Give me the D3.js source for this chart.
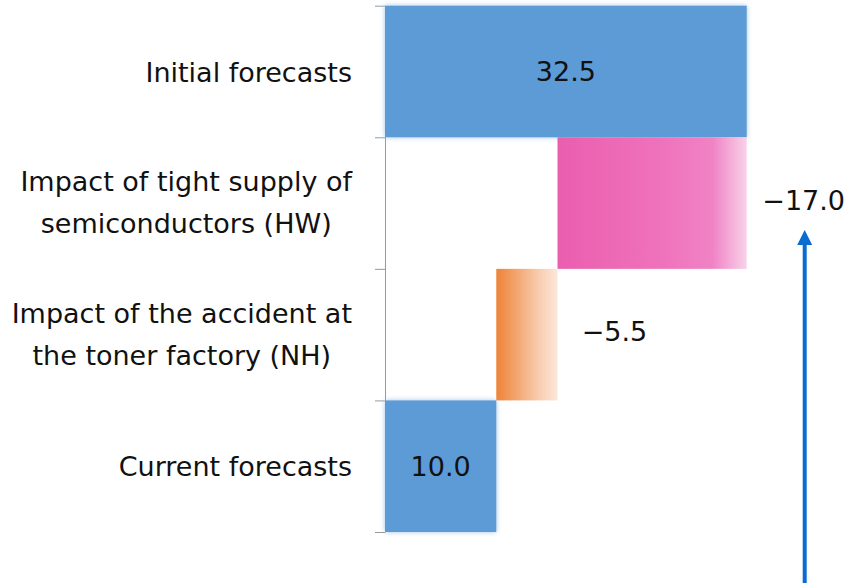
<!DOCTYPE html>
<html>
<head>
<meta charset="utf-8">
<script src="https://cdn.jsdelivr.net/npm/d3@7/dist/d3.min.js"></script>
<style>
  html, body { margin: 0; padding: 0; background: #fff; overflow: hidden; }
  svg { display: block; }
  .cat-label, .val-label { font-family: "DejaVu Sans", sans-serif; font-size: 27px; fill: #111; }
  .axis path, .axis line { stroke: #999; stroke-width: 1; }
</style>
</head>
<body>
<div id="chart"></div>
<script>
// waterfall data
const categories = [
  ["Initial forecasts"],
  ["Impact of tight supply of", "semiconductors (HW)"],
  ["Impact of the accident at", "the toner factory (NH)"],
  ["Current forecasts"]
];
const values = [32.5, -17.0, -5.5, 10.0];
const kinds = ["total", "delta", "delta", "total"];
const valueLabels = ["32.5", "\u221217.0", "\u22125.5", "10.0"];

(function () {
  const width = 844;
  const height = 583;
  const margin = { top: 5.7, right: 98, bottom: 51, left: 385 };
  const innerHeight = height - margin.top - margin.bottom;
  const labelRight = -33;

  // running totals for each bar
  let running = 0;
  const bars = values.map((v, i) => {
    let x0, x1;
    if (kinds[i] === "total") {
      x0 = 0; x1 = v; running = v;
    } else {
      x0 = running + v; x1 = running; running = running + v;
    }
    return { i, value: v, kind: kinds[i], x0, x1, lines: categories[i], label: valueLabels[i] };
  });

  const svg = d3.select("#chart")
    .append("svg")
    .attr("width", width)
    .attr("height", height);

  const defs = svg.append("defs");

  const glow = defs.append("filter")
    .attr("id", "glow")
    .attr("x", "-20%").attr("y", "-20%")
    .attr("width", "140%").attr("height", "140%");
  glow.append("feGaussianBlur").attr("in", "SourceAlpha").attr("stdDeviation", 2.6).attr("result", "blur");
  glow.append("feFlood").attr("flood-color", "#9fc3ea").attr("result", "col");
  glow.append("feComposite").attr("in", "col").attr("in2", "blur").attr("operator", "in").attr("result", "shadow");
  const merge = glow.append("feMerge");
  merge.append("feMergeNode").attr("in", "shadow");
  merge.append("feMergeNode").attr("in", "SourceGraphic");

  function gradient(id, stops) {
    const gr = defs.append("linearGradient")
      .attr("id", id)
      .attr("x1", "0%").attr("x2", "100%")
      .attr("y1", "0%").attr("y2", "0%");
    stops.forEach(([o, c]) => gr.append("stop").attr("offset", o).attr("stop-color", c));
  }
  gradient("pinkGrad", [["0%", "#ea5eae"], ["55%", "#ef72bc"], ["82%", "#f083c4"], ["100%", "#f9d2e9"]]);
  gradient("orangeGrad", [["0%", "#ee8337"], ["35%", "#f3a773"], ["70%", "#f8cdb0"], ["100%", "#fce7da"]]);
  const fills = ["#5b9bd5", "url(#pinkGrad)", "url(#orangeGrad)", "#5b9bd5"];

  const g = svg.append("g").attr("transform", `translate(${margin.left},${margin.top})`);

  const x = d3.scaleLinear().domain([0, 32.5]).range([0, 361.7]);

  const y = d3.scaleBand()
    .domain(bars.map((d) => d.i))
    .range([0, innerHeight])
    .padding(0);

  // axis with ticks at band edges
  const yEdges = d3.scaleLinear().domain([0, bars.length]).range([0, innerHeight]);
  g.append("g")
    .attr("class", "axis")
    .call(d3.axisLeft(yEdges).tickValues(d3.range(bars.length + 1)).tickSize(10).tickSizeOuter(0).tickFormat(""));

  g.selectAll("rect.bar")
    .data(bars)
    .join("rect")
    .attr("class", "bar")
    .attr("x", (d) => x(d.x0))
    .attr("y", (d) => y(d.i))
    .attr("width", (d) => x(d.x1) - x(d.x0))
    .attr("height", y.bandwidth())
    .attr("fill", (d) => fills[d.i])
    .attr("filter", (d) => (d.kind === "total" ? "url(#glow)" : null));

  // value labels
  g.selectAll("text.val-label")
    .data(bars)
    .join("text")
    .attr("class", "val-label")
    .attr("text-anchor", "middle")
    .attr("x", (d) => (d.kind === "total" ? (x(d.x0) + x(d.x1)) / 2 : x(d.x1) + 57))
    .attr("y", (d) => y(d.i) + y.bandwidth() / 2 + (d.kind === "total" ? 0 : -3))
    .attr("dy", "0.36em")
    .text((d) => d.label);

  // category labels: block right-aligned, lines centred within block
  const cat = g.selectAll("text.cat-label")
    .data(bars)
    .join("text")
    .attr("class", "cat-label")
    .attr("text-anchor", "middle")
    .attr("y", (d) => y(d.i) + y.bandwidth() / 2);
  cat.selectAll("tspan")
    .data((d) => d.lines.map((t, k) => ({ t, k, n: d.lines.length })))
    .join("tspan")
    .attr("dy", (l) => (l.k === 0 ? (l.n > 1 ? "-0.43em" : "0.38em") : "1.55em"))
    .text((l) => l.t);
  cat.each(function () {
    const spans = d3.select(this).selectAll("tspan");
    let maxW = 0;
    spans.each(function () { maxW = Math.max(maxW, this.getComputedTextLength()); });
    spans.attr("x", labelRight - maxW / 2);
  });

  // arrow under the largest impact label
  const hw = bars[1];
  const ax = x(hw.x1) + 58;
  const ay = y(hw.i) + y.bandwidth() / 2 + 27;
  g.append("line")
    .attr("x1", ax).attr("x2", ax)
    .attr("y1", height).attr("y2", ay + 12)
    .attr("stroke", "#0a6bd0")
    .attr("stroke-width", 4);
  g.append("path")
    .attr("d", `M${ax - 7.5},${ay + 15} L${ax},${ay} L${ax + 7.5},${ay + 15} Z`)
    .attr("fill", "#0a6bd0");
})();
</script>
</body>
</html>
